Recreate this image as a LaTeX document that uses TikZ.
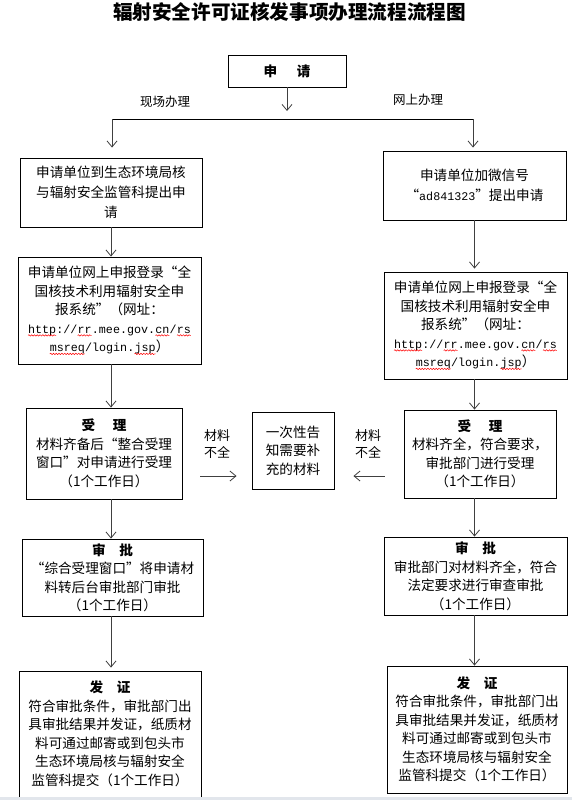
\documentclass[tikz,border=0pt]{standalone}
\usepackage{fontspec}
\setmainfont{Noto Sans CJK SC}
\setmonofont{Liberation Mono}
\usepackage{xcolor}
\usepackage{tikz}
\usetikzlibrary{arrows.meta,positioning,decorations.pathmorphing}

\definecolor{pageedge}{RGB}{226,230,236}
% red wavy underline, as the spell checker shows it
\newcommand{\spellw}[1]{\tikz[baseline=(sw.base)]{\node[draw=none, font={}, inner sep=0pt, outer sep=0pt,
        minimum width=0pt, minimum height=0pt] (sw) {#1};
    \draw[red, line width=0.5pt, decorate, decoration={snake,amplitude=0.7pt,segment length=2.8pt}]
    ([yshift=-2.2pt]sw.base west) -- ([yshift=-2.2pt]sw.base east);}}
\newcommand{\mono}[1]{{\ttfamily\fontsize{11.7}{18.5}\selectfont #1}}

\begin{document}
\begin{tikzpicture}[x=1pt,y=-1pt,
    >={Straight Barb[length=6pt,width=10pt]},
    box/.style={draw, line width=0.9pt, align=center, inner sep=0pt,
        font=\fontsize{13.6}{18.5}\selectfont},
    lbl/.style={align=center, font=\fontsize{13}{17}\selectfont},
    arr/.style={->, draw=black!75, line width=0.8pt}]
\fill[white] (0,0) rectangle (572,800);
\useasboundingbox (0,0) rectangle (572,800);

% Title
\node[font=\bfseries\fontsize{19.6}{22}\selectfont] (title) at (289.5,12) {辐射安全许可证核发事项办理流程流程图};

% Start
\node[box, minimum width=118, minimum height=32, font=\bfseries\fontsize{13.6}{16}\selectfont] (apply) at (287,71) {申\hspace{1.45em}请};
\node[lbl, font=\fontsize{12.5}{15}\selectfont] (siteLbl) at (165,102) {现场办理};
\node[lbl, font=\fontsize{12.5}{15}\selectfont] (webLbl) at (418,100) {网上办理};
\coordinate (splitL) at (112,119);
\coordinate (splitR) at (473,119);

% On-site column
\node[box, minimum width=182, minimum height=69, font=\fontsize{13.6}{20}\selectfont] (site1) at (111,192.5)
    {申请单位到生态环境局核\\与辐射安全监管科提出申\\请};
\node[box, minimum width=183, minimum height=107] (site2) at (109.5,310.5)
    {申请单位网上申报登录“全\\国核技术利用辐射安全申\\报系统”（网址：\\
     \mono{\spellw{http}://\spellw{rr}.mee.gov.\spellw{cn}/\spellw{rs}}\\
     \mono{\spellw{msreq}/login.\spellw{jsp}}）};
\node[box, minimum width=156, minimum height=91] (siteAccept) at (104,453.5)
    {\textbf{受\hspace{1.3em}理}\\材料齐备后“整合受理\\窗口”对申请进行受理\\（1个工作日）};
\node[box, minimum width=181, minimum height=77] (siteReview) at (112.5,577.5)
    {\textbf{审\quad 批}\\“综合受理窗口”将申请材\\料转后台审批部门审批\\（1个工作日）};
\node[box, minimum width=182, minimum height=126] (siteIssue) at (110,734)
    {\textbf{发\quad 证}\\符合审批条件，审批部门出\\具审批结果并发证，纸质材\\料可通过邮寄或到包头市\\生态环境局核与辐射安全\\监管科提交（1个工作日）};

% Online column
\node[box, minimum width=183, minimum height=69, font=\fontsize{13.6}{20}\selectfont] (web1) at (474.5,185.5)
    {申请单位加微信号\\“\mono{ad841323}”提出申请};
\node[box, minimum width=183, minimum height=107] (web2) at (475.5,325.5)
    {申请单位网上申报登录“全\\国核技术利用辐射安全申\\报系统”（网址：\\
     \mono{\spellw{http}://\spellw{rr}.mee.gov.\spellw{cn}/\spellw{rs}}\\
     \mono{\spellw{msreq}/login.\spellw{jsp}}）};
\node[box, minimum width=152, minimum height=88] (webAccept) at (480,454)
    {\textbf{受\hspace{1.3em}理}\\材料齐全，符合要求，\\审批部门进行受理\\（1个工作日）};
\node[box, minimum width=183, minimum height=78] (webReview) at (475.5,576)
    {\textbf{审\quad 批}\\审批部门对材料齐全，符合\\法定要求进行审查审批\\（1个工作日）};
\node[box, minimum width=180, minimum height=127] (webIssue) at (477,729.5)
    {\textbf{发\quad 证}\\符合审批条件，审批部门出\\具审批结果并发证，纸质材\\料可通过邮寄或到包头市\\生态环境局核与辐射安全\\监管科提交（1个工作日）};

% Incomplete materials
\node[box, minimum width=82, minimum height=77] (notice) at (293,450.5)
    {一次性告\\知需要补\\充的材料};
\node[lbl] (lackL) at (217,444) {材料\\不全};
\node[lbl] (lackR) at (368,444) {材料\\不全};

% Connectors
\draw[arr, shorten >=8pt] (apply.south) -- (apply.south |- splitL);
\draw[line width=0.8pt] (splitL) -- (splitR);
\draw[arr, shorten >=10pt] (splitL) -- (splitL |- site1.north);
\draw[arr, shorten >=3pt] (splitR) -- (splitR |- web1.north);

\draw[arr] (site1.south) -- (site1.south |- site2.north);
\draw[arr] (site2.south -| site1.south) -- (siteAccept.north -| site1.south);
\draw[arr] (siteAccept.south -| site1.south) -- (siteReview.north -| site1.south);
\draw[arr, shorten >=3pt] (siteReview.south -| site1.south) -- (siteIssue.north -| site1.south);

\draw[arr, shorten >=3pt] (web1.south) -- (web1.south |- web2.north);
\draw[arr] (web2.south -| web1.south) -- (webAccept.north -| web1.south);
\draw[arr] (webAccept.south -| web1.south) -- (webReview.north -| web1.south);
\draw[arr] (webReview.south -| web1.south) -- (webIssue.north -| web1.south);

\draw[arr, shorten <=18pt, shorten >=15pt] ([yshift=-22.5pt]siteAccept.east) -- ([yshift=-22.5pt]siteAccept.east -| notice.west);
\draw[arr, shorten <=19pt, shorten >=19pt] ([yshift=-22pt]webAccept.west) -- ([yshift=-22pt]webAccept.west -| notice.east);

% Page edge
\fill[pageedge] (0,796.5) rectangle (572,800);
\end{tikzpicture}
\end{document}
